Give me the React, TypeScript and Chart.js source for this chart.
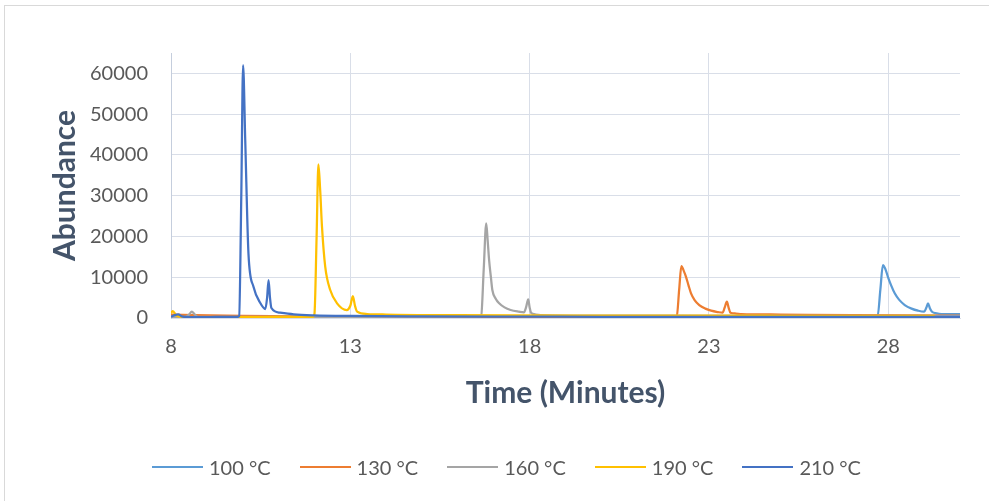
import React, { useEffect, useRef } from "react";
import { Chart, registerables } from "chart.js";

Chart.register(...registerables);

const seriesLabels = ["100 °C", "130 °C", "160 °C", "190 °C", "210 °C"];
const seriesColors = ["#5B9BD5", "#ED7D31", "#A5A5A5", "#FFC000", "#4472C4"];

const time100 = [8, 10, 15, 20, 25, 27.7, 27.78, 27.85, 27.92, 27.99, 28.08, 28.18, 28.3, 28.46, 28.65, 28.83, 29.0, 29.06, 29.11, 29.16, 29.22, 29.35, 29.48, 29.7, 30];
const abund100 = [150, 200, 150, 200, 250, 300, 7000, 13000, 12000, 10100, 8000, 6050, 4500, 3180, 2300, 1790, 1540, 2500, 3600, 2400, 1540, 1150, 980, 950, 950];

const time130 = [8, 10, 14, 18, 22, 22.1, 22.17, 22.23, 22.3, 22.36, 22.43, 22.5, 22.6, 22.73, 22.9, 23.06, 23.25, 23.38, 23.44, 23.5, 23.55, 23.6, 23.75, 23.9, 25, 27, 30];
const abund130 = [800, 500, 200, 100, 100, 200, 7000, 12700, 11500, 10100, 8000, 6050, 4400, 3180, 2300, 1790, 1450, 1300, 2600, 4000, 2500, 1300, 1100, 980, 850, 700, 600];

const time160 = [8, 8.4, 8.5, 8.58, 8.66, 8.75, 10, 13, 16.6, 16.65, 16.72, 16.79, 16.83, 16.87, 16.92, 16.96, 17.05, 17.15, 17.3, 17.47, 17.7, 17.84, 17.9, 17.96, 18.0, 18.04, 18.15, 18.3, 20, 25, 30];
const abund160 = [300, 300, 800, 1540, 900, 300, 300, 300, 400, 600, 12000, 23200, 19000, 14200, 10000, 6860, 4800, 3600, 2600, 1960, 1550, 1390, 2600, 4580, 2600, 1300, 900, 730, 600, 500, 500];

const time190 = [8, 8.05, 8.15, 8.3, 9, 10, 11, 11.95, 12.0, 12.06, 12.11, 12.16, 12.21, 12.3, 12.44, 12.63, 12.9, 13.0, 13.07, 13.13, 13.19, 13.47, 14, 16, 20, 25, 29.3];
const abund190 = [1200, 1700, 600, 300, 200, 200, 250, 300, 1000, 20000, 37700, 31300, 22400, 12600, 6860, 3600, 1960, 3000, 5390, 3000, 1550, 980, 850, 700, 600, 550, 500];

const time210 = [8, 8.1, 8.2, 8.3, 8.5, 9, 9.5, 9.85, 9.9, 9.96, 10.01, 10.07, 10.16, 10.3, 10.49, 10.63, 10.68, 10.72, 10.76, 10.8, 11.04, 11.42, 11.97, 13, 15, 18, 20, 25, 30];
const abund210 = [300, 700, 900, 400, 200, 200, 300, 300, 500, 30000, 62000, 43600, 15800, 7670, 3670, 2200, 5000, 9300, 5000, 2450, 1300, 900, 660, 500, 400, 350, 300, 250, 250];

const seriesTimes = [time100, time130, time160, time190, time210];
const seriesValues = [abund100, abund130, abund160, abund190, abund210];

const xTickValues = [8, 13, 18, 23, 28];
const yTickValues = [0, 10000, 20000, 30000, 40000, 50000, 60000];

const xTitle = "Time (Minutes)";
const yTitle = "Abundance";

const FONT = "Lato, 'Open Sans', sans-serif";

export default function App() {
  const canvasRef = useRef<HTMLCanvasElement | null>(null);

  useEffect(() => {
    const canvas = canvasRef.current;
    if (!canvas) return;
    const datasets = seriesLabels.map((label, i) => ({
      label,
      data: seriesTimes[i].map((t, j) => ({ x: t, y: seriesValues[i][j] })),
      borderColor: seriesColors[i],
      backgroundColor: seriesColors[i],
      borderWidth: 2.25,
      pointRadius: 0,
      cubicInterpolationMode: "monotone" as const,
      fill: false,
      order: seriesLabels.length - 1 - i,
    }));

    const chart = new Chart(canvas, {
      type: "line",
      data: { datasets },
      options: {
        animation: false,
        responsive: false,
        maintainAspectRatio: false,
        devicePixelRatio: 1,
        layout: { padding: { top: 53, right: 29, bottom: 0, left: 0 } },
        plugins: {
          legend: { display: false },
          tooltip: { enabled: false },
        },
        scales: {
          x: {
            type: "linear",
            min: 8,
            max: 30,
            afterBuildTicks: (scale: any) => {
              scale.ticks = xTickValues.map((v) => ({ value: v }));
            },
            afterFit: (scale: any) => {
              scale.height = 183;
            },
            grid: { color: "#d9dee8", lineWidth: 1, drawTicks: false },
            border: { display: true, color: "#d9dee8" },
            ticks: {
              padding: 17,
              color: "#595959",
              font: { family: FONT, size: 20 },
              maxRotation: 0,
              autoSkip: false,
              callback: (v: any) => String(v),
            },
            title: {
              display: true,
              text: xTitle,
              color: "#44546A",
              font: { family: FONT, size: 30, weight: "bold" },
              padding: { top: 0, bottom: 90 },
            },
          },
          y: {
            type: "linear",
            min: 0,
            max: 65000,
            afterBuildTicks: (scale: any) => {
              scale.ticks = yTickValues.map((v) => ({ value: v }));
            },
            afterFit: (scale: any) => {
              scale.width = 171;
            },
            grid: { color: "#d9dee8", lineWidth: 1, drawTicks: false },
            border: { display: true, color: "#c5cedd" },
            ticks: {
              padding: 23,
              color: "#595959",
              font: { family: FONT, size: 20 },
              autoSkip: false,
              callback: (v: any) => String(v),
            },
            title: {
              display: true,
              text: yTitle,
              color: "#44546A",
              font: { family: FONT, size: 30, weight: "bold" },
              padding: { top: 47, bottom: 0 },
            },
          },
        },
      },
    });
    return () => chart.destroy();
  }, []);

  return (
    <div
      style={{
        position: "fixed",
        left: 0,
        top: 0,
        width: 989,
        height: 501,
        overflow: "hidden",
        background: "#ffffff",
      }}
    >
      <div
        style={{
          position: "absolute",
          left: 4,
          top: 5,
          width: 1200,
          height: 800,
          border: "1px solid #d9d9d9",
          boxSizing: "border-box",
        }}
      />
      <canvas
        ref={canvasRef}
        width={989}
        height={501}
        style={{ position: "absolute", left: 0, top: 0, width: 989, height: 501 }}
      />
      <div
        style={{
          position: "absolute",
          left: 152,
          top: 455,
          height: 24,
          display: "flex",
          alignItems: "center",
          fontFamily: FONT,
          fontSize: 20,
          color: "#595959",
          whiteSpace: "nowrap",
        }}
      >
        {seriesLabels.map((label, i) => (
          <div
            key={label}
            style={{ width: 147.6, display: "flex", alignItems: "center" }}
          >
            <span
              style={{
                display: "inline-block",
                width: 51,
                height: 2.5,
                background: seriesColors[i],
                marginRight: 6,
              }}
            />
            <span>{label}</span>
          </div>
        ))}
      </div>
    </div>
  );
}
